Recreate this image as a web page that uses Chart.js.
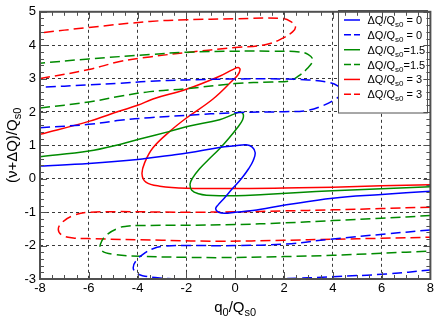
<!DOCTYPE html>
<html><head><meta charset="utf-8">
<script src="https://cdn.jsdelivr.net/npm/chart.js@4"></script>
<style>html,body{margin:0;padding:0;background:#fff}</style>
</head><body>
<canvas id="c" width="436" height="318" style="width:436px;height:318px"></canvas>
<script>
// ---- data ----
const xTicks = [-8, -6, -4, -2, 0, 2, 4, 6, 8];
const yTicks = [-3, -2, -1, 0, 1, 2, 3, 4, 5];
const dQvalues = ['0', '0', '1.5', '1.5', '3', '3'];
const legendSuffix = [' = 0', ' = 0', '=1.5', '=1.5', ' = 3', ' = 3'];

const solid0 = [[-8,0.38],[-6,0.46],[-4,0.58],[-2.7,0.70],[-1.9,0.78],[-0.64,0.94],[0,0.99],[0.45,1.02],[0.7,0.95],[0.82,0.78],[0.74,0.55],[0.55,0.3],[0.25,0.0],[-0.12,-0.3],[-0.45,-0.58],[-0.7,-0.78],[-0.8,-0.9],[-0.68,-1.0],[-0.43,-1.03],[0,-1.0],[0.72,-0.95],[2.1,-0.78],[4,-0.58],[6,-0.47],[8,-0.37]];
const dash0Upper = [[-8,1.53],[-6,1.63],[-4.73,1.75],[-3.5,1.83],[-2,1.9],[0,1.98],[2,2.01],[2.9,2.04],[3.59,2.19],[4.1,2.38],[4.4,2.6],[4.2,2.78],[3.86,2.88],[3,2.96],[1.95,2.99],[0,2.99],[-2,2.96],[-3.5,2.92],[-4.73,2.86],[-6,2.81],[-8,2.74]];
const dash0Lower = [[8,-1.53],[6.2,-1.65],[4,-1.80],[2.1,-1.95],[0,-2.0],[-2,-2.0],[-2.96,-2.02],[-3.4,-2.1],[-3.7,-2.22],[-4.05,-2.44],[-4.18,-2.66],[-4.05,-2.82],[-3.8,-2.9],[-3.09,-2.97],[-2,-3.0],[0,-3.0],[2,-2.99],[4,-2.93],[6.2,-2.85],[8,-2.73]];

const solid15 = [[-8,0.66],[-6,0.83],[-4.73,1.03],[-3.91,1.19],[-2.68,1.42],[-1.87,1.58],[-0.64,1.77],[0,1.95],[0.2,2.0],[0.33,1.93],[0.3,1.76],[0.08,1.52],[-0.25,1.22],[-0.64,0.9],[-1.1,0.57],[-1.46,0.3],[-1.75,0.02],[-1.85,-0.16],[-1.78,-0.34],[-1.5,-0.45],[-1.18,-0.49],[0.05,-0.51],[1.2,-0.47],[2.63,-0.41],[4,-0.36],[6,-0.30],[8,-0.24]];
const dash15Upper = [[-8,2.12],[-6,2.3],[-4.73,2.47],[-3.5,2.61],[-2,2.7],[0,2.85],[1.5,2.9],[2.22,2.93],[2.6,3.08],[2.95,3.3],[3.18,3.55],[3.0,3.72],[2.63,3.80],[1.5,3.82],[0,3.82],[-2,3.79],[-3.5,3.72],[-6,3.59],[-8,3.46]];
const dash15Lower = [[8,-1.10],[6,-1.18],[4,-1.25],[2,-1.32],[0,-1.37],[-2,-1.39],[-4,-1.40],[-4.45,-1.42],[-4.73,-1.46],[-5.27,-1.68],[-5.52,-1.95],[-5.49,-2.14],[-5.0,-2.26],[-3.91,-2.32],[-2,-2.35],[-0.64,-2.36],[2,-2.33],[4,-2.29],[6,-2.23],[8,-2.16]];

const solid3 = [[-8,1.33],[-6,1.72],[-4.73,2.03],[-4,2.2],[-3.37,2.39],[-2,2.68],[-0.64,3.07],[-0.1,3.27],[0.12,3.33],[0.2,3.27],[0.1,3.1],[-0.1,2.95],[-0.91,2.39],[-2.0,1.82],[-2.68,1.42],[-3.37,0.93],[-3.7,0.5],[-3.82,0.15],[-3.66,-0.1],[-3.09,-0.22],[-2,-0.28],[0.6,-0.29],[2.6,-0.27],[4,-0.25],[6,-0.21],[8,-0.18]];
const dash3Upper = [[-8,3.0],[-6,3.27],[-4.73,3.51],[-3.5,3.65],[-2,3.78],[0,3.93],[1.27,4.02],[1.95,4.21],[2.35,4.4],[2.47,4.55],[2.3,4.7],[1.95,4.8],[0,4.79],[-2,4.76],[-3.5,4.71],[-6,4.53],[-8,4.37]];
const dash3Lower = [[8,-0.85],[6,-0.89],[4,-0.93],[2,-0.96],[0,-0.99],[-2,-1.0],[-6,-1.0],[-6.7,-1.12],[-7.11,-1.32],[-7.25,-1.51],[-7.11,-1.68],[-6.64,-1.77],[-6.0,-1.79],[-3,-1.84],[-0.64,-1.87],[2,-1.84],[4,-1.81],[6,-1.78],[8,-1.75]];

// ---- styling ----
const BLUE = '#0000ff', GREEN = '#008b00', RED = '#ff0000';
const DASH = [10, 5];
const legendColors = [BLUE, BLUE, GREEN, GREEN, RED, RED];
const legendDashed = [false, true, false, true, false, true];
const FONT = '"Liberation Sans", Arial, Helvetica, sans-serif';

function ds(points, color, dashed) {
  return {
    data: points.map(p => ({x: p[0], y: p[1]})),
    borderColor: color, backgroundColor: color,
    borderWidth: 1.5, borderDash: dashed ? DASH : [],
    showLine: true, pointRadius: 0, tension: 0.4, fill: false
  };
}

function drawSubText(ctx, parts, x, y, size, subSize, subDy, align) {
  let w = 0;
  parts.forEach(p => { ctx.font = (p.sub ? subSize : size) + 'px ' + FONT; p.w = ctx.measureText(p.t).width; w += p.w; });
  let cx = align === 'center' ? x - w / 2 : x;
  ctx.textAlign = 'left'; ctx.textBaseline = 'alphabetic';
  parts.forEach(p => {
    ctx.font = (p.sub ? subSize : size) + 'px ' + FONT;
    ctx.fillText(p.t, cx, y + (p.sub ? subDy : 0));
    cx += p.w;
  });
}

const decor = {
  id: 'decor',
  afterDraw(chart) {
    const {ctx, chartArea: a, scales: {x, y}} = chart;
    ctx.save();
    // legend box
    const lx = 338.5, ly = 10.5, lw = 89, lh = 102.5;
    ctx.fillStyle = '#fff'; ctx.fillRect(lx, ly, lw, lh);
    ctx.strokeStyle = '#505050'; ctx.lineWidth = 1; ctx.strokeRect(lx, ly, lw, lh);
    for (let i = 0; i < dQvalues.length; i++) {
      const ry = 20 + i * 14.86;
      ctx.beginPath(); ctx.strokeStyle = legendColors[i]; ctx.lineWidth = 1.5;
      ctx.setLineDash(legendDashed[i] ? [7, 3] : []);
      ctx.moveTo(344, ry); ctx.lineTo(360, ry); ctx.stroke();
      ctx.setLineDash([]);
      ctx.fillStyle = '#000';
      drawSubText(ctx, [{t: '\u0394Q/Q'}, {t: 's0', sub: true}, {t: legendSuffix[i]}], 367.5, ry + 4, 11, 8, 3, 'left');
    }
    // ticks (inward)
    ctx.strokeStyle = '#505050'; ctx.lineWidth = 1; ctx.beginPath();
    for (let k = -16; k <= 16; k++) {
      const v = k * 0.5, px = Math.round(x.getPixelForValue(v)) + 0.5, L = (k % 4 === 0) ? 7 : 4;
      ctx.moveTo(px, a.bottom); ctx.lineTo(px, a.bottom - L);
      ctx.moveTo(px, a.top); ctx.lineTo(px, a.top + L);
    }
    for (let k = -15; k <= 25; k++) {
      const v = k * 0.2, py = Math.round(y.getPixelForValue(v)) + 0.5, L = (k % 5 === 0) ? 7 : 4;
      ctx.moveTo(a.left, py); ctx.lineTo(a.left + L, py);
      ctx.moveTo(a.right, py); ctx.lineTo(a.right - L, py);
    }
    ctx.stroke();
    // frame
    ctx.lineWidth = 2; ctx.strokeStyle = '#505050';
    ctx.strokeRect(a.left, a.top, a.right - a.left, a.bottom - a.top);
    // axis titles
    ctx.fillStyle = '#000';
    drawSubText(ctx, [{t: 'q'}, {t: '0', sub: true}, {t: '/Q'}, {t: 's0', sub: true}], (a.left + a.right) / 2, 311.5, 15, 11, 4, 'center');
    ctx.save();
    ctx.translate(17, (a.top + a.bottom) / 2);
    ctx.rotate(-Math.PI / 2);
    drawSubText(ctx, [{t: '(\u03bd+\u0394Q)/Q'}, {t: 's0', sub: true}], 0, 0, 15, 11, 4, 'center');
    ctx.restore();
    ctx.restore();
  }
};

new Chart(document.getElementById('c'), {
  type: 'scatter',
  data: {
    datasets: [
      ds(solid0, BLUE, false), ds(dash0Upper, BLUE, true), ds(dash0Lower, BLUE, true),
      ds(solid15, GREEN, false), ds(dash15Upper, GREEN, true), ds(dash15Lower, GREEN, true),
      ds(solid3, RED, false), ds(dash3Upper, RED, true), ds(dash3Lower, RED, true)
    ]
  },
  options: {
    responsive: false, animation: false, devicePixelRatio: 1,
    layout: {padding: {left: 0, right: 5, top: 5, bottom: 0}},
    plugins: {legend: {display: false}, tooltip: {enabled: false}},
    scales: {
      x: {
        type: 'linear', min: -8, max: 8,
        afterBuildTicks: s => { s.ticks = xTicks.map(v => ({value: v})); },
        afterFit: s => { s.height = 39; },
        ticks: {color: '#000', font: {size: 13, family: FONT}, padding: 2, maxRotation: 0},
        grid: {color: '#3a3a3a', lineWidth: 1, drawTicks: false},
        border: {display: false, dash: [3, 3]}
      },
      y: {
        type: 'linear', min: -3, max: 5,
        afterBuildTicks: s => { s.ticks = yTicks.map(v => ({value: v})); },
        afterFit: s => { s.width = 40; },
        ticks: {color: '#000', font: {size: 13, family: FONT}, padding: 4},
        grid: {color: '#3a3a3a', lineWidth: 1, drawTicks: false},
        border: {display: false, dash: [3, 3]}
      }
    }
  },
  plugins: [decor]
});
</script>
</body></html>
